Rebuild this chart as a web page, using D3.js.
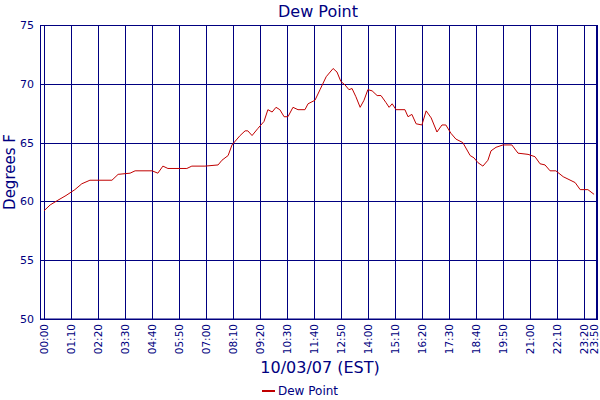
<!DOCTYPE html>
<html><head><meta charset="utf-8">
<script src="https://cdn.jsdelivr.net/npm/d3@7"></script>
<style>body{margin:0;background:#fff}text{font-family:"DejaVu Sans",sans-serif;fill:#000080}</style>
</head><body><script>
// minutes after midnight
const times = [0,16,36,57,80,98,119,176,192,223,236,280,295,308,321,370,383,417,451,461,477,487,508,521,528,539,554,570,580,591,601,611,622,632,645,658,676,684,702,715,731,749,759,769,780,790,798,808,819,829,839,850,863,873,886,894,902,912,935,943,953,964,979,990,1003,1018,1031,1041,1054,1067,1085,1104,1114,1124,1137,1150,1158,1171,1189,1212,1228,1254,1272,1285,1298,1311,1326,1345,1376,1389,1409,1425];
const dewPoint = [59.2,59.7,60.1,60.5,61,61.5,61.8,61.8,62.3,62.4,62.6,62.6,62.4,63,62.8,62.8,63,63,63.1,63.5,63.9,64.8,65.6,66,66,65.6,66.2,66.8,67.8,67.6,68,67.8,67.2,67.2,68,67.8,67.8,68.3,68.6,69.5,70.6,71.3,71,70.2,69.9,69.5,69.6,68.9,68,68.6,69.5,69.4,69,69,68.4,68,68.3,67.8,67.8,67.2,67.4,66.6,66.5,67.7,67.1,65.9,66.5,66.5,65.8,65.3,65,63.9,63.7,63.3,63,63.5,64.3,64.6,64.8,64.8,64.1,64,63.8,63.2,63.1,62.6,62.6,62.1,61.6,61,61,60.6];
const tickMinutes = [0,70,140,210,280,350,420,490,560,630,700,770,840,910,980,1050,1120,1190,1260,1330,1400,1430];
const yTicks = [50,55,60,65,70,75];

const svg = d3.select("body").append("svg").attr("width",600).attr("height",400);
const x = d3.scaleLinear().domain([0,1430]).range([44,596]);
const y = d3.scaleLinear().domain([50,75]).range([319,25]);
const fmt = m => String(Math.floor(m/60)).padStart(2,"0")+":"+String(m%60).padStart(2,"0");

svg.append("rect").attr("x",40.5).attr("y",25.5).attr("width",557).attr("height",293.5)
  .attr("fill","none").attr("stroke","#000080");

svg.selectAll(".vg").data(tickMinutes).enter().append("line")
  .attr("x1",d=>Math.round(x(d))+0.5).attr("x2",d=>Math.round(x(d))+0.5)
  .attr("y1",25).attr("y2",319).attr("stroke","#000080");
svg.selectAll(".hg").data(yTicks).enter().append("line")
  .attr("x1",40).attr("x2",598).attr("y1",d=>Math.round(y(d))+0.5).attr("y2",d=>Math.round(y(d))+0.5)
  .attr("stroke","#000080");

svg.selectAll(".yl").data(yTicks).enter().append("text")
  .attr("x",34).attr("y",d=>y(d)+4).attr("text-anchor","end").attr("font-size",11).text(d=>d);
svg.selectAll(".xl").data(tickMinutes).enter().append("text")
  .attr("transform",d=>`translate(${Math.min(x(d)+4,598)},324) rotate(-90)`)
  .attr("text-anchor","end").attr("font-size",10.5).text(fmt);

svg.append("path").datum(times.map((t,i)=>[t,dewPoint[i]]))
  .attr("fill","none").attr("stroke","#c00000").attr("stroke-width",1)
  .attr("d",d3.line().x(d=>x(d[0])).y(d=>y(d[1])));

svg.append("text").attr("x",318).attr("y",17).attr("text-anchor","middle").attr("font-size",16).text("Dew Point");
svg.append("text").attr("transform","translate(15,172) rotate(-90)").attr("text-anchor","middle").attr("font-size",15).text("Degrees F");
svg.append("text").attr("x",320).attr("y",373).attr("text-anchor","middle").attr("font-size",16).text("10/03/07 (EST)");
svg.append("line").attr("x1",262).attr("x2",275).attr("y1",391).attr("y2",391).attr("stroke","#c00000").attr("stroke-width",2);
svg.append("text").attr("x",278).attr("y",395).attr("font-size",12).text("Dew Point");
</script></body></html>
